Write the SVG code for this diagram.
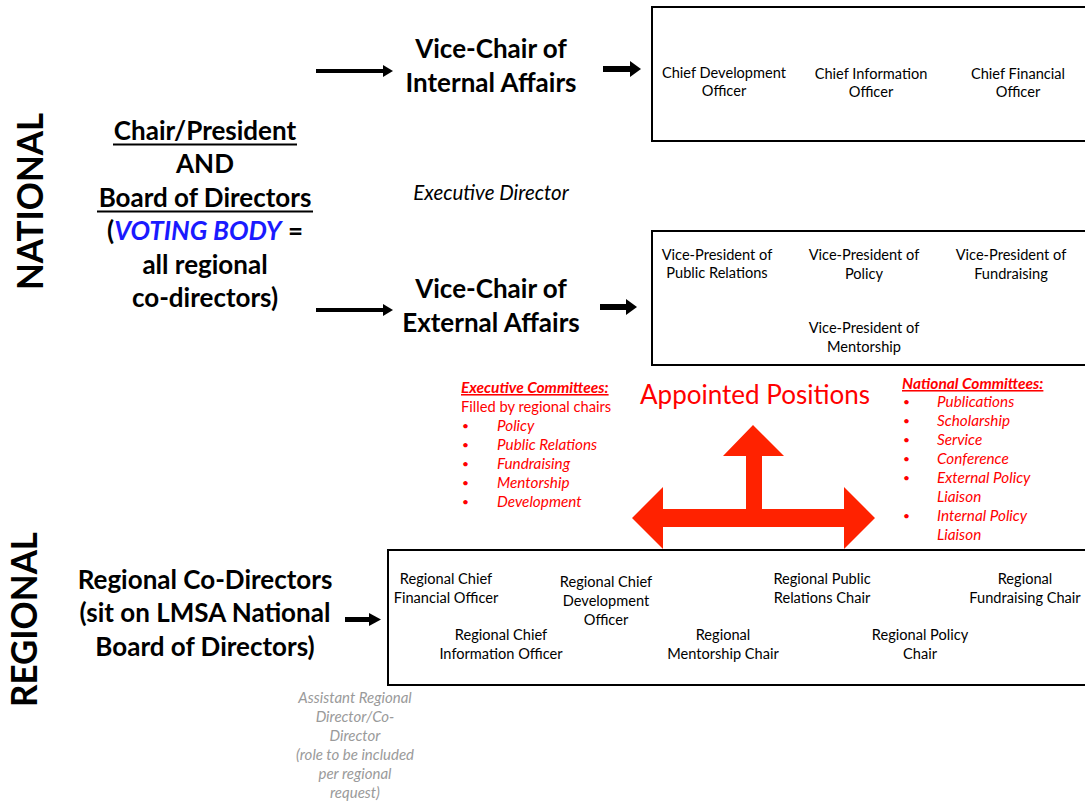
<svg xmlns="http://www.w3.org/2000/svg" width="1085" height="803" viewBox="0 0 1085 803">
  <style>
    text { font-family: Lato, "Open Sans", "Liberation Sans", sans-serif; fill: #000; }
    .side { font-size: 37px; font-weight: 700; }
    .big { font-size: 26px; font-weight: 700; text-anchor: middle; }
    .small { font-size: 14.6px; text-anchor: middle; }
    .exec { font-size: 20.5px; font-style: italic; text-anchor: middle; }
    .red { fill: #ff0000; font-size: 14.7px; }
    .bul { fill: #ff0000; font-size: 12px; }
    .redh { fill: #ff0000; font-size: 15.5px; font-weight: 700; font-style: italic; text-decoration: underline; }
    .redi { fill: #ff0000; font-size: 15.3px; font-style: italic; }
    .grey { fill: #9a9a9a; font-size: 15px; font-style: italic; text-anchor: middle; }
    .box { fill: #fff; stroke: #000; stroke-width: 2; }
    .ul { stroke: #000; stroke-width: 2; }
  </style>

  <rect width="1085" height="803" fill="#fff"/>

  <!-- level labels -->
  <g id="label-national">
    <text class="side" transform="translate(43,290) rotate(-90)" textLength="177" lengthAdjust="spacingAndGlyphs">NATIONAL</text>
  </g>
  <g id="label-regional">
    <text class="side" transform="translate(37,707) rotate(-90)" textLength="175" lengthAdjust="spacingAndGlyphs">REGIONAL</text>
  </g>

  <!-- connectors -->
  <g id="connectors" fill="#000" stroke="none">
    <!-- chair to internal affairs -->
    <rect x="316" y="69" width="68" height="4"/>
    <polygon points="383,65 393,71 383,77"/>
    <!-- internal affairs to officers -->
    <rect x="603" y="66" width="28" height="6"/>
    <polygon points="630,61 641,69 630,77"/>
    <!-- chair to external affairs -->
    <rect x="316" y="308" width="68" height="4"/>
    <polygon points="383,304 393,310 383,316"/>
    <!-- external affairs to vice-presidents -->
    <rect x="600" y="304" width="27" height="6"/>
    <polygon points="626,299 637,307 626,315"/>
    <!-- regional co-directors to regional officers -->
    <rect x="345" y="617" width="25" height="5"/>
    <polygon points="369,613 381,619.5 369,626"/>
  </g>

  <!-- national chair / board -->
  <g id="chair-board">
    <text class="big" x="205" y="140">Chair/President</text>
    <line class="ul" x1="113" y1="144.5" x2="297" y2="144.5"/>
    <text class="big" x="205" y="173">AND</text>
    <text class="big" x="205" y="207">Board of Directors</text>
    <line class="ul" x1="97" y1="211.5" x2="313" y2="211.5"/>
    <text class="big" x="205" y="240">(<tspan fill="#1a1aff" font-style="italic">VOTING BODY</tspan> =</text>
    <text class="big" x="205" y="274">all regional</text>
    <text class="big" x="205" y="307">co-directors)</text>
  </g>

  <g id="vice-chair-internal">
    <text class="big" x="491" y="58">Vice-Chair of</text>
    <text class="big" x="491" y="92">Internal Affairs</text>
  </g>

  <g id="executive-director">
    <text class="exec" x="491" y="200">Executive Director</text>
  </g>

  <g id="vice-chair-external">
    <text class="big" x="491" y="298">Vice-Chair of</text>
    <text class="big" x="491" y="332">External Affairs</text>
  </g>

  <!-- internal officers -->
  <g id="internal-officers">
    <rect class="box" x="652" y="7" width="440" height="134"/>
    <text class="small" x="724" y="78">Chief Development</text>
    <text class="small" x="724" y="96">Officer</text>
    <text class="small" x="871" y="79">Chief Information</text>
    <text class="small" x="871" y="97">Officer</text>
    <text class="small" x="1018" y="79">Chief Financial</text>
    <text class="small" x="1018" y="97">Officer</text>
  </g>

  <!-- external vice-presidents -->
  <g id="external-vps">
    <rect class="box" x="652" y="231" width="440" height="134"/>
    <text class="small" x="717" y="260">Vice-President of</text>
    <text class="small" x="717" y="278">Public Relations</text>
    <text class="small" x="864" y="260">Vice-President of</text>
    <text class="small" x="864" y="279">Policy</text>
    <text class="small" x="1011" y="260">Vice-President of</text>
    <text class="small" x="1011" y="279">Fundraising</text>
    <text class="small" x="864" y="333">Vice-President of</text>
    <text class="small" x="864" y="352">Mentorship</text>
  </g>

  <!-- executive committees -->
  <g id="executive-committees">
    <text class="redh" x="461" y="393">Executive Committees:</text>
    <text class="red" x="461" y="412">Filled by regional chairs</text>
    <text class="bul" x="462" y="430">•</text>
    <text class="bul" x="462" y="449">•</text>
    <text class="bul" x="462" y="468">•</text>
    <text class="bul" x="462" y="487">•</text>
    <text class="bul" x="462" y="506">•</text>
    <text class="redi" x="497" y="431">Policy</text>
    <text class="redi" x="497" y="450">Public Relations</text>
    <text class="redi" x="497" y="469">Fundraising</text>
    <text class="redi" x="497" y="488">Mentorship</text>
    <text class="redi" x="497" y="507">Development</text>
  </g>

  <!-- appointed positions -->
  <g id="appointed-positions">
    <text x="755" y="404" font-size="26" text-anchor="middle" style="fill:#ff0000">Appointed Positions</text>
    <polygon fill="#ff2200" points="753,425 784,456 762,456 762,509 844,509 844,487 875,518 844,549 844,527 663,527 663,549 632,518 663,487 663,509 746,509 746,456 723,456"/>
  </g>

  <!-- national committees -->
  <g id="national-committees">
    <text class="redh" x="902" y="389">National Committees:</text>
    <text class="bul" x="903" y="406">•</text>
    <text class="bul" x="903" y="425">•</text>
    <text class="bul" x="903" y="444">•</text>
    <text class="bul" x="903" y="463">•</text>
    <text class="bul" x="903" y="482">•</text>
    <text class="bul" x="903" y="520">•</text>
    <text class="redi" x="937" y="407">Publications</text>
    <text class="redi" x="937" y="426">Scholarship</text>
    <text class="redi" x="937" y="445">Service</text>
    <text class="redi" x="937" y="464">Conference</text>
    <text class="redi" x="937" y="483">External Policy</text>
    <text class="redi" x="937" y="502">Liaison</text>
    <text class="redi" x="937" y="521">Internal Policy</text>
    <text class="redi" x="937" y="540">Liaison</text>
  </g>

  <!-- regional co-directors -->
  <g id="regional-co-directors">
    <text class="big" x="205" y="589">Regional Co-Directors</text>
    <text class="big" x="205" y="622">(sit on LMSA National</text>
    <text class="big" x="205" y="656">Board of Directors)</text>
  </g>

  <!-- regional officers -->
  <g id="regional-officers">
    <rect class="box" x="388" y="550" width="705" height="135"/>
    <text class="small" x="446" y="584">Regional Chief</text>
    <text class="small" x="446" y="603">Financial Officer</text>
    <text class="small" x="606" y="587">Regional Chief</text>
    <text class="small" x="606" y="606">Development</text>
    <text class="small" x="606" y="625">Officer</text>
    <text class="small" x="822" y="584">Regional Public</text>
    <text class="small" x="822" y="603">Relations Chair</text>
    <text class="small" x="1025" y="584">Regional</text>
    <text class="small" x="1025" y="603">Fundraising Chair</text>
    <text class="small" x="501" y="640">Regional Chief</text>
    <text class="small" x="501" y="659">Information Officer</text>
    <text class="small" x="723" y="640">Regional</text>
    <text class="small" x="723" y="659">Mentorship Chair</text>
    <text class="small" x="920" y="640">Regional Policy</text>
    <text class="small" x="920" y="659">Chair</text>
  </g>

  <!-- optional assistant role -->
  <g id="assistant-director">
    <text class="grey" x="355" y="703">Assistant Regional</text>
    <text class="grey" x="355" y="722">Director/Co-</text>
    <text class="grey" x="355" y="741">Director</text>
    <text class="grey" x="355" y="760">(role to be included</text>
    <text class="grey" x="355" y="779">per regional</text>
    <text class="grey" x="355" y="798">request)</text>
  </g>
</svg>
